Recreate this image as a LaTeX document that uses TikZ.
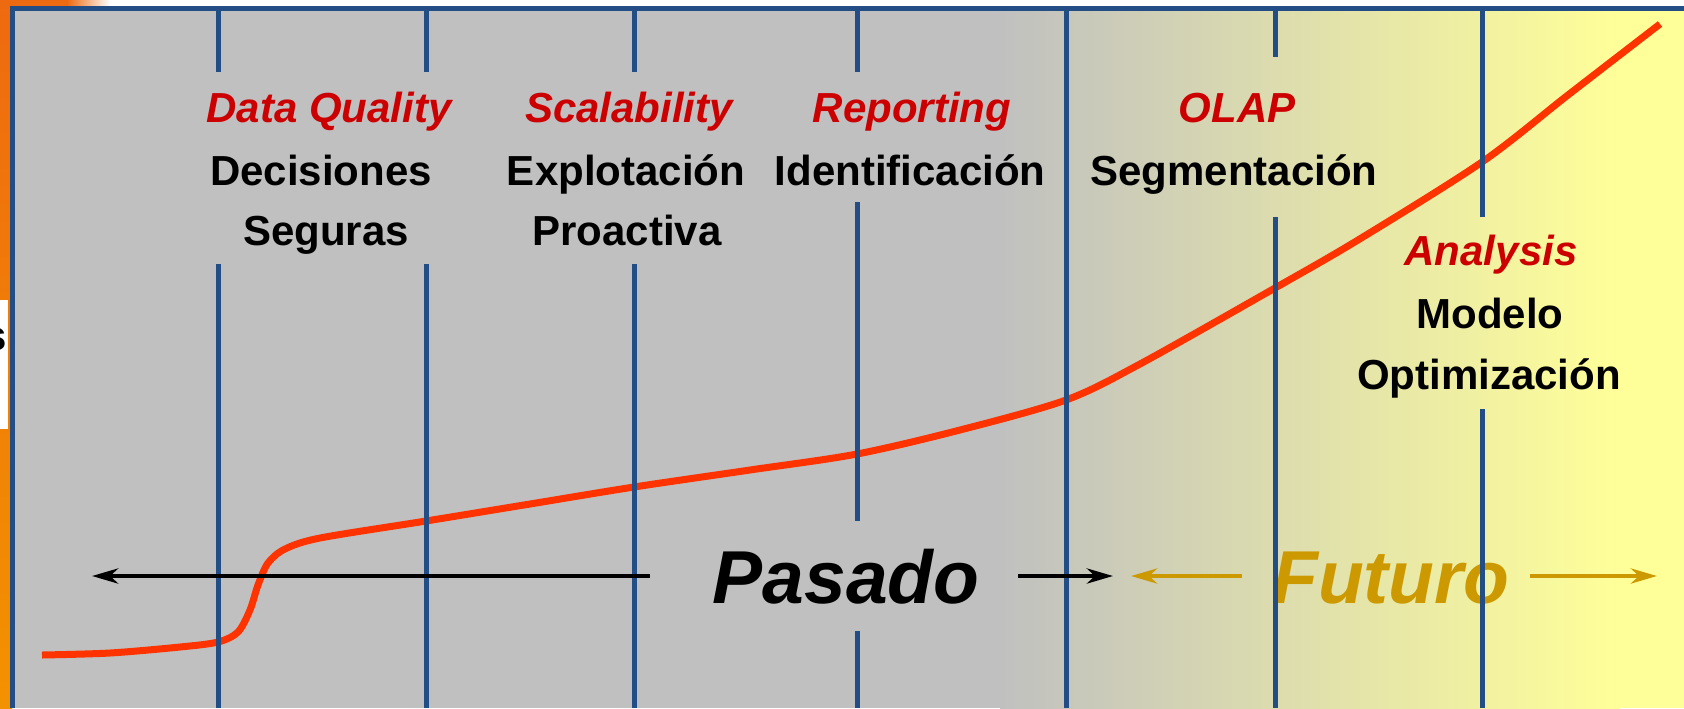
\documentclass[tikz,border=0pt]{standalone}
\usepackage{fontspec}
\setmainfont{Liberation Sans}
\usetikzlibrary{arrows.meta}
\definecolor{panelgray}{HTML}{C0C0C0}
\definecolor{lineblue}{HTML}{234E85}
\definecolor{curvered}{HTML}{FF3300}
\definecolor{labelred}{HTML}{CC0000}
\definecolor{goldtone}{HTML}{CC9900}
\definecolor{paleyellow}{HTML}{FFFF99}
\definecolor{orangeA}{HTML}{EE6A10}
\definecolor{orangeB}{HTML}{F39200}
\begin{document}
\begin{tikzpicture}[x=0.5pt,y=-0.5pt,
  vline/.style={lineblue, line width=2.5pt},
  lbl/.style={inner sep=0pt, anchor=base, font=\fontsize{21}{25}\selectfont\bfseries},
  redlbl/.style={lbl, text=labelred, font=\fontsize{21}{25}\selectfont\bfseries\itshape},
  biglbl/.style={inner sep=0pt, anchor=base, font=\fontsize{37.5}{45}\selectfont\bfseries\itshape},
  arr/.style={line width=2.35pt, -{Stealth[length=13pt,width=7.5pt,inset=4pt]}},
  curve/.style={curvered, line width=3.5pt}]
\useasboundingbox (0,0) rectangle (1684,708);
% outside background
\fill[white] (0,0) rectangle (1684,708);
\shade[top color=orangeA, bottom color=orangeB] (0,0) rectangle (12,708);
\fill[orangeA] (0,0) rectangle (67,8);
\shade[left color=orangeA, right color=white] (67,0) rectangle (110,8);
\fill[white] (0,300) rectangle (8,429);
\begin{scope}
  \clip (0,300) rectangle (8,429);
  \node[lbl, anchor=base east] (scut) at (7.5,350) {s};
\end{scope}
% panel
\fill[panelgray] (12.5,8.5) rectangle (1684,708);
\shade[left color=panelgray, right color=paleyellow] (1000,8.5) rectangle (1620,708);
\fill[paleyellow] (1620,8.5) rectangle (1684,708);
\draw[lineblue, line width=2.5pt] (12.5,708) -- (12.5,8.5) -- (1684,8.5);
% curve
\draw[curve, line join=round] plot[smooth, tension=0.5] coordinates {
  (42,655) (110,653) (180,647) (218,642) (238,632) (250,610) (258,585)
  (268,563) (285,549) (320,538) (426,521) (530,504) (634,487) (750,470)
  (857,454) (960,430) (1066,400) (1140,364) (1275,288) (1358,240)
  (1482,162) (1568,95) (1660,24)};
% Futuro text (under the blue lines)
\node[biglbl, text=goldtone] (futuro) at (1391,603) {Futuro};
% vertical lines
\foreach \xx in {218,426,634}{
  \draw[vline] (\xx,8.5) -- (\xx,72);
  \draw[vline] (\xx,264) -- (\xx,708);
}
\draw[vline] (857,8.5) -- (857,72);
\draw[vline] (857,202) -- (857,521);
\draw[vline] (857,631) -- (857,708);
\draw[vline] (1066,8.5) -- (1066,708);
\draw[vline] (1275,8.5) -- (1275,57);
\draw[vline] (1275,217) -- (1275,708);
\draw[vline] (1482,8.5) -- (1482,217);
\draw[vline] (1482,409) -- (1482,708);
% arrows
\coordinate (pl1) at (650,576);
\coordinate (pl2) at (92,576);
\coordinate (pr1) at (1018,576);
\coordinate (pr2) at (1113,576);
\coordinate (fl1) at (1242,576);
\coordinate (fl2) at (1131,576);
\coordinate (fr1) at (1530,576);
\coordinate (fr2) at (1657,576);
\draw[arr] (pl1) -- (pl2);
\draw[arr] (pr1) -- (pr2);
\draw[arr, goldtone] (fl1) -- (fl2);
\draw[arr, goldtone] (fr1) -- (fr2);
% labels
\node[redlbl] (dq) at (329,122) {Data Quality};
\node[lbl] (dec) at (321,185) {Decisiones};
\node[lbl] (seg) at (326,245) {Seguras};
\node[redlbl] (sc) at (629,122) {Scalability};
\node[lbl] (exp) at (626,185) {Explotación};
\node[lbl] (pro) at (627,245) {Proactiva};
\node[redlbl] (rep) at (912,122) {Reporting};
\node[lbl] (ide) at (910,185) {Identificación};
\node[redlbl] (olap) at (1237,122) {OLAP};
\node[lbl] (sgm) at (1234,185) {Segmentación};
\node[redlbl] (ana) at (1491,265) {Analysis};
\node[lbl] (mod) at (1490,328) {Modelo};
\node[lbl] (opt) at (1489,389) {Optimización};
\node[biglbl] (pasado) at (846,603) {Pasado};
\end{tikzpicture}
\end{document}
